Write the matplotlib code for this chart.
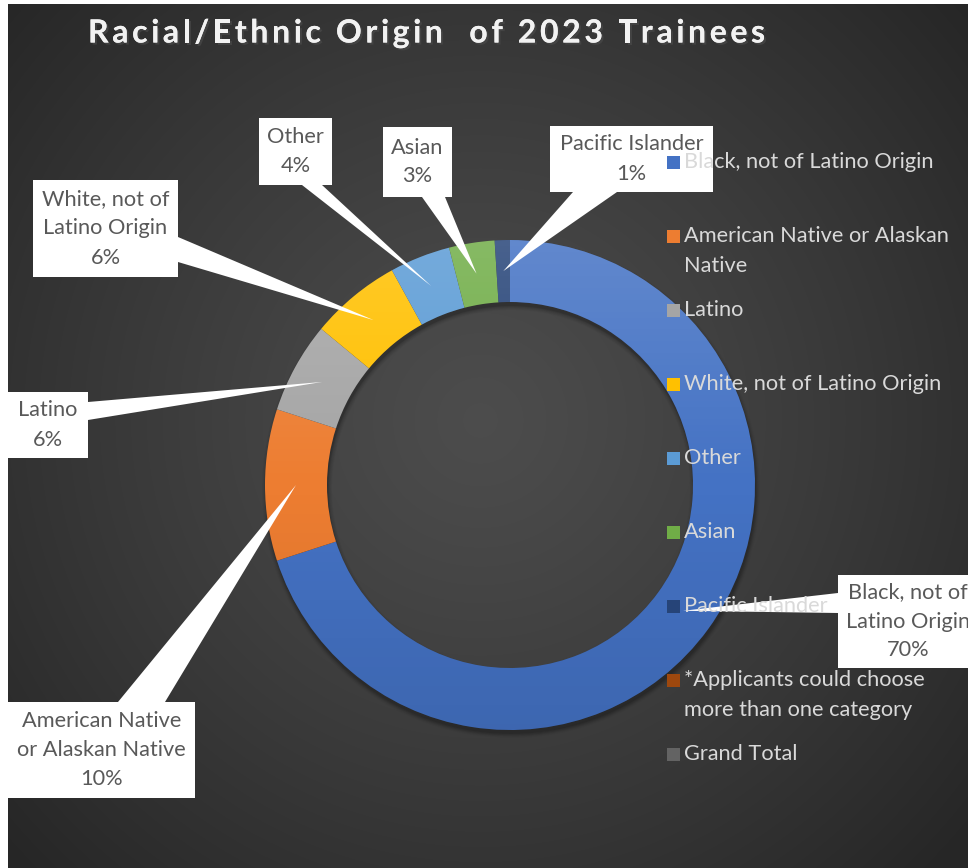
import matplotlib
matplotlib.use("Agg")
import matplotlib.pyplot as plt
import matplotlib.patheffects as pe
from matplotlib.patches import Rectangle, Polygon, Wedge
from matplotlib.font_manager import FontProperties
import numpy as np

# share of 2023 trainees by racial/ethnic origin (percent)
categories = ["Black, not of Latino Origin", "American Native or Alaskan Native", "Latino",
              "White, not of Latino Origin", "Other", "Asian", "Pacific Islander",
              "*Applicants could choose more than one category", "Grand Total"]
percentages = [70, 10, 6, 6, 4, 3, 1, 0, 0]
colors = ["#4472C4", "#ED7D31", "#A5A5A5", "#FFC000", "#5B9BD5", "#70AD47",
          "#264478", "#9E480E", "#636363"]
legend_labels = ["Black, not of Latino Origin", "American Native or Alaskan\nNative", "Latino",
                 "White, not of Latino Origin", "Other", "Asian", "Pacific Islander",
                 "*Applicants could choose\nmore than one category", "Grand Total"]
callout_names = ["Black, not of\nLatino Origin", "American Native\nor Alaskan Native", "Latino",
                 "White, not of\nLatino Origin", "Other", "Asian", "Pacific Islander"]
title = "Racial/Ethnic Origin  of 2023 Trainees"

# callout boxes (left, top, right, bottom) and the edge span the pointer leaves from
callout_boxes = [(838, 575, 978, 668), (8, 702, 195, 798), (8, 392, 88, 458),
                 (33, 180, 178, 277), (259, 118, 332, 185), (383, 127, 452, 197),
                 (550, 126, 713, 192)]
pointer_bases = [((838, 593), (838, 613)), ((118, 702), (165, 702)), ((88, 402), (88, 420)),
                 ((178, 237), (178, 262)), ((302, 185), (322, 185)), ((422, 197), (445, 197)),
                 ((573, 192), (617, 192))]

FONT = "Lato"
FS = 15.7
W, H = 968, 868
CX, CY = 510, 485
R_OUT, RING = 245, 62

fig = plt.figure(figsize=(W / 100, H / 100), dpi=100)
fig.patch.set_facecolor("white")
ax = fig.add_axes([0, 0, 1, 1])
ax.set_axis_off()

# dark radial background
yy, xx = np.mgrid[4:H, 8:W]
r = np.clip(np.hypot(xx - 480, yy - 420) / 640, 0, 1)
val = 0.30 + (0.15 - 0.30) * r ** 1.2
bg = np.dstack([val, val, val])
ax.imshow(bg, extent=(8, W, H, 4), aspect="auto", zorder=0, interpolation="bilinear")

# soft shadow under the ring
for k, a in enumerate([0.10, 0.08, 0.06, 0.04, 0.03]):
    ax.add_patch(Wedge((CX + 1, CY + 4), R_OUT + k, 0, 360, width=RING + 2 * k,
                       facecolor="black", edgecolor="none", alpha=a, zorder=0.5))

pie_vals = [v for v in percentages if v > 0]
pie_cols = [c for v, c in zip(percentages, colors) if v > 0]
wedges, _ = ax.pie(pie_vals, colors=pie_cols, startangle=-90, counterclock=True,
                   radius=R_OUT, center=(CX, CY),
                   wedgeprops=dict(width=RING, linewidth=0))

# light-to-dark vertical sheen on each slice
t = np.linspace(0, 1, 256)
sheen = np.zeros((256, 1, 4))
sheen[:, 0, :3] = np.where(t < 0.5, 1.0, 0.0)[:, None]
sheen[:, 0, 3] = np.where(t < 0.5, 0.16 * (1 - 2 * t), 0.10 * (2 * t - 1))
for w in wedges:
    im = ax.imshow(sheen, extent=(CX - R_OUT, CX + R_OUT, CY + R_OUT, CY - R_OUT),
                   aspect="auto", zorder=1.5, interpolation="bilinear")
    im.set_clip_path(w)

# callouts with wedge pointers into the middle of each slice
for w, name, pct, box, base in zip(wedges, callout_names, pie_vals, callout_boxes, pointer_bases):
    mid = np.deg2rad((w.theta1 + w.theta2) / 2)
    rm = w.r - w.width / 2
    tip = (w.center[0] + rm * np.cos(mid), w.center[1] + rm * np.sin(mid))
    ax.add_patch(Polygon([base[0], base[1], tip], closed=True, facecolor="white",
                         edgecolor="none", zorder=5))
    x0, y0, x1, y1 = box
    ax.add_patch(Rectangle((x0, y0), x1 - x0, y1 - y0, facecolor="white",
                           edgecolor="none", zorder=5))
    lines = name.split("\n") + [f"{pct}%"]
    step = 29
    ymid = (y0 + y1) / 2
    xmid = (x0 + x1) / 2
    for i, line in enumerate(lines):
        ly = ymid + (i - (len(lines) - 1) / 2) * step
        ax.text(xmid, ly, line, ha="center", va="center", fontsize=FS,
                family=FONT, color="#595959", zorder=6)

# legend
for i, (lab, col) in enumerate(zip(legend_labels, colors)):
    ly = 162 + 74 * i
    ax.add_patch(Rectangle((667, ly - 6.5), 13, 13, facecolor=col, edgecolor="none", zorder=7))
    for j, line in enumerate(lab.split("\n")):
        ax.text(684, ly + 30 * j, line, ha="left", va="center", fontsize=FS,
                family=FONT, color="#D9D9D9", zorder=7)

# title, set letter by letter for wider tracking
title_fs = 23
title_left, title_right = 88, 765
prop = FontProperties(family=FONT, weight="bold", size=title_fs)
renderer = fig.canvas.get_renderer()


def text_width(s):
    return renderer.get_text_width_height_descent(s, prop, ismath=False)[0]


base_w = text_width("xx")
advances = [text_width("x" + ch + "x") - base_w for ch in title]
tracking = (title_right - title_left - sum(advances[:-1]) - text_width(title[-1])) / (len(title) - 1)
tx = title_left
for ch, adv in zip(title, advances):
    if ch != " ":
        ax.text(tx, 33, ch, ha="left", va="center", fontproperties=prop, color="#F2F2F2",
                zorder=8, path_effects=[pe.withSimplePatchShadow(offset=(1.5, -1.5), alpha=0.7),
                                        pe.Normal()])
    tx += adv + tracking

ax.set_aspect("auto")
ax.set_xlim(0, W)
ax.set_ylim(H, 0)
fig.savefig("out.png", dpi=100, facecolor="white")
